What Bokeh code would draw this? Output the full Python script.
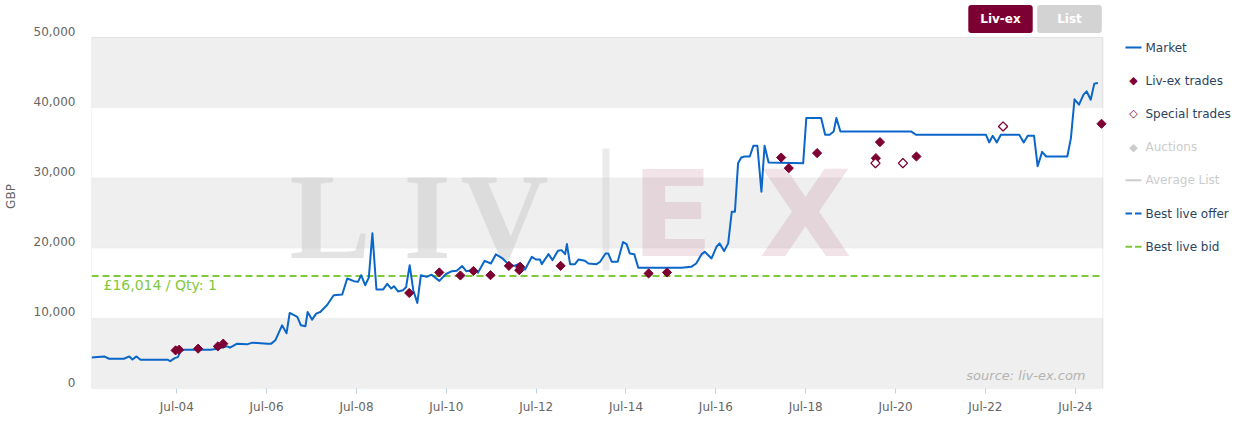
import math
from datetime import datetime

from bokeh.plotting import figure
from bokeh.models import (Range1d, FixedTicker, DatetimeTickFormatter, NumeralTickFormatter,
                          BoxAnnotation, Label, LinearAxis, ColumnDataSource)
from bokeh.embed import file_html
from bokeh.resources import INLINE

# ---------------- data (dates as decimal years) ----------------
market_t = [2002.60, 2002.88, 2002.99, 2003.32, 2003.44, 2003.51, 2003.60, 2003.69, 2004.29, 2004.35,
            2004.45, 2004.52, 2004.58, 2004.67, 2005.25, 2005.36, 2005.62, 2005.68, 2005.84, 2006.06,
            2006.18, 2006.51, 2006.60, 2006.69, 2006.84, 2006.94, 2007.01, 2007.18, 2007.26, 2007.36,
            2007.41, 2007.51, 2007.60, 2007.69, 2007.84, 2007.99, 2008.18, 2008.29, 2008.44, 2008.53,
            2008.60, 2008.69, 2008.77, 2008.85, 2008.94, 2009.09, 2009.18, 2009.27, 2009.33, 2009.42,
            2009.53, 2009.60, 2009.68, 2009.76, 2009.85, 2009.93, 2010.06, 2010.17, 2010.34, 2010.49,
            2010.62, 2010.73, 2010.85, 2010.94, 2011.10, 2011.20, 2011.35, 2011.49, 2011.60, 2011.75,
            2011.88, 2012.01, 2012.14, 2012.25, 2012.40, 2012.49, 2012.58, 2012.62, 2012.77, 2012.86,
            2012.98, 2013.06, 2013.14, 2013.18, 2013.25, 2013.36, 2013.44, 2013.58, 2013.66, 2013.84,
            2013.92, 2014.04, 2014.10, 2014.18, 2014.31, 2014.43, 2014.51, 2014.58, 2014.68, 2014.77,
            2015.73, 2015.95, 2016.06, 2016.18, 2016.25, 2016.40, 2016.51, 2016.58, 2016.68, 2016.77,
            2016.85, 2016.92, 2016.99, 2017.06, 2017.14, 2017.25, 2017.33, 2017.42, 2017.51, 2017.58,
            2017.67, 2018.44, 2018.51, 2018.84, 2018.93, 2019.03, 2019.12, 2019.18, 2019.27, 2020.84,
            2020.95, 2022.51, 2022.58, 2022.66, 2022.75, 2022.84, 2023.25, 2023.35, 2023.44, 2023.58,
            2023.66, 2023.76, 2023.85, 2024.32, 2024.40, 2024.48, 2024.58, 2024.68, 2024.75, 2024.84,
            2024.92, 2025.00]
market_v = [4400, 4570, 4240, 4240, 4570, 4140, 4570, 4100, 4100, 3900,
            4330, 4470, 5330, 5530, 5530, 5610, 6000, 5810, 6390, 6290,
            6530, 6390, 6390, 6860, 9000, 7860, 10760, 10190, 9000, 8860,
            10900, 9810, 10670, 10900, 11860, 13290, 13390, 15670, 15290, 15190,
            16140, 14710, 15790, 22100, 14110, 14110, 14900, 14240, 14570, 13830,
            14000, 14430, 17570, 14000, 12190, 16140, 15900, 16210, 15330, 16310,
            16710, 16760, 17440, 16710, 16900, 16500, 18190, 17810, 19100, 18530,
            17710, 17470, 17810, 16950, 18760, 18380, 18380, 17710, 19140, 18290,
            19610, 19710, 19140, 20570, 17710, 17710, 18380, 18190, 17810, 17710,
            18050, 19240, 19240, 18050, 18050, 20860, 20570, 19240, 19140, 17190,
            17190, 17330, 17810, 19140, 19470, 18530, 20190, 20670, 19570, 20670,
            25190, 25190, 32100, 32900, 33050, 33050, 34570, 34570, 28040, 34570,
            32200, 32100, 38530, 38530, 36140, 36140, 36620, 38530, 36620, 36620,
            36140, 36140, 35050, 36000, 35050, 36140, 36140, 35050, 36000, 36000,
            31670, 33710, 33050, 33050, 35670, 41190, 40430, 41860, 42330, 41140,
            43430, 43530]

livex_t = [2004.47, 2004.55, 2004.97, 2005.41, 2005.53, 2009.67, 2010.34, 2010.81, 2011.10, 2011.48,
           2011.89, 2012.12, 2012.14, 2013.04, 2015.00, 2015.41, 2017.95, 2018.12, 2018.75, 2020.06,
           2020.15, 2020.96, 2025.08]
livex_v = [5430, 5530, 5670, 6000, 6390, 13610, 16530, 16100, 16740, 16140,
           17470, 16860, 17330, 17470, 16390, 16530, 32900, 31390, 33530, 32810,
           35100, 33050, 37710]

special_t = [2020.05, 2020.66, 2022.89]
special_v = [32100, 32100, 37330]

best_bid = 16014
best_bid_qty = 1

x_start, x_end = 2002.598, 2025.109
tick_years = [2004, 2006, 2008, 2010, 2012, 2014, 2016, 2018, 2020, 2022, 2024]
y_ticks = [0, 10000, 20000, 30000, 40000, 50000]
series_names = ["Market", "Liv-ex trades", "Special trades", "Auctions", "Average List",
                "Best live offer", "Best live bid"]

# ---------------- helpers ----------------
EPOCH = datetime(1970, 1, 1)


def dec_to_dt(t):
    y = int(t)
    a, b = datetime(y, 1, 1), datetime(y + 1, 1, 1)
    return a + (b - a) * (t - y)


def ms(dt):
    return (dt - EPOCH).total_seconds() * 1000.0


# page layout (pixels): plot area 89..1102 x 37..388; frame extended to hold legend/buttons
W, H = 1241, 422
PL, PR, PT, PB = 89, 1102, 37, 388
FRAME_TOP = 4
years_per_px = (x_end - x_start) / (PR - PL)
x_range_end = x_end + (W - PR) * years_per_px
units_per_px = y_ticks[-1] / (PB - PT)
y_top = y_ticks[-1] + (PT - FRAME_TOP) * units_per_px
label_lift = 6.5 * units_per_px   # tick labels sit a few px above their grid line

MAROON = "#7d0032"
BLUE = "#0b66c9"
GREEN = "#7fc93a"
GREY_INACTIVE = "#cccccc"
LEGEND_TXT = "#2c4360"
FONT = "DejaVu Sans"

p = figure(width=W, height=H, x_axis_type="datetime", y_axis_location=None,
           output_backend="svg", toolbar_location=None, tools="",
           x_range=Range1d(dec_to_dt(x_start), dec_to_dt(x_range_end)),
           y_range=Range1d(0, y_top),
           min_border_left=PL, min_border_right=0, min_border_top=FRAME_TOP,
           min_border_bottom=H - PB)
p.background_fill_color = "white"
p.border_fill_color = "white"
p.outline_line_color = None
p.grid.grid_line_color = None

# alternating bands (their edges act as grid lines)
for lo, hi in [(y_ticks[0], y_ticks[1]), (y_ticks[2], y_ticks[3]), (y_ticks[4], y_ticks[5])]:
    p.add_layout(BoxAnnotation(bottom=lo, top=hi, right=dec_to_dt(x_end), fill_color="#efefef",
                               fill_alpha=1.0, line_color="#e2e2e2", line_width=1, level="image"))
# plot border
p.add_layout(BoxAnnotation(bottom=y_ticks[0], top=y_ticks[-1], right=dec_to_dt(x_end),
                           fill_alpha=0, line_color="#c4c4c4", line_width=1, level="underlay"))

# watermark
wm_grey = dict(x_units="screen", y_units="screen", text_font="Liberation Serif",
               text_font_style="bold", text_font_size="122px", text_color="#cdcdcd",
               text_alpha=0.56, text_baseline="middle", level="underlay")
for letter, xx in [("L", 198), ("I", 312), ("V", 369)]:
    p.add_layout(Label(x=xx, y=172, text=letter, **wm_grey))
p.add_layout(BoxAnnotation(left=511, right=518, top=240, bottom=118, left_units="screen",
                           right_units="screen", top_units="screen", bottom_units="screen",
                           fill_color="#cdcdcd", fill_alpha=0.4, line_color=None, level="underlay"))
wm_pink = dict(x_units="screen", y_units="screen", text_font=FONT, text_font_style="bold",
               text_font_size="120px", text_color="#a0405f", text_alpha=0.15,
               text_baseline="middle", level="underlay")
p.add_layout(Label(x=540, y=174, text="E", **wm_pink))
p.add_layout(Label(x=714, y=174, text="X", text_align="center", **wm_pink))

# ---------------- series ----------------
src_m = ColumnDataSource(dict(x=[dec_to_dt(t) for t in market_t], y=market_v))
src_l = ColumnDataSource(dict(x=[dec_to_dt(t) for t in livex_t], y=livex_v))
src_s = ColumnDataSource(dict(x=[dec_to_dt(t) for t in special_t], y=special_v))

p.segment(x0=[dec_to_dt(x_start)], x1=[dec_to_dt(x_end)], y0=[best_bid], y1=[best_bid],
          line_color=GREEN, line_width=2, line_dash="7 4")
p.line(x="x", y="y", source=src_m, line_color=BLUE, line_width=2, line_join="round")
p.scatter(x="x", y="y", source=src_l, marker="square", angle=math.pi / 4, size=6.5,
          fill_color=MAROON, line_color=MAROON, line_width=1)
p.scatter(x="x", y="y", source=src_s, marker="square", angle=math.pi / 4, size=6.5,
          fill_color="white", line_color=MAROON, line_width=1.3)

# ---------------- axes ----------------
p.xaxis.ticker = FixedTicker(ticks=[ms(datetime(y, 7, 1)) for y in tick_years])
fmt = "%b-%y"
p.xaxis.formatter = DatetimeTickFormatter(milliseconds=fmt, seconds=fmt, minsec=fmt, minutes=fmt,
                                          hourmin=fmt, hours=fmt, days=fmt, months=fmt, years=fmt)
p.xaxis.axis_line_color = None
p.xaxis.major_tick_line_color = "#c0d0e0"
p.xaxis.major_tick_out = 5
p.xaxis.major_tick_in = 0
p.xaxis.minor_tick_line_color = None
p.xaxis.major_label_standoff = 6
p.xaxis.major_label_text_font = FONT
p.xaxis.major_label_text_font_size = "12px"
p.xaxis.major_label_text_color = "#666666"

# value axis: labels drawn slightly above their grid lines (shifted label range)
p.extra_y_ranges = {"labels": Range1d(-label_lift, y_top - label_lift)}
yax = LinearAxis(y_range_name="labels", ticker=FixedTicker(ticks=y_ticks),
                 formatter=NumeralTickFormatter(format="0,0"),
                 axis_line_color=None, major_tick_line_color=None, minor_tick_line_color=None,
                 major_tick_out=0, major_tick_in=0, major_label_standoff=16,
                 major_label_text_font=FONT, major_label_text_font_size="12px",
                 major_label_text_color="#666666",
                 axis_label="GBP", axis_label_standoff=13, axis_label_text_font=FONT,
                 axis_label_text_font_size="12px", axis_label_text_font_style="normal",
                 axis_label_text_color="#666666")
p.add_layout(yax, "left")

# best bid label
p.add_layout(Label(x=12, y=best_bid, x_units="screen", y_units="data", y_offset=-1,
                   text=f"£{best_bid:,} / Qty: {best_bid_qty}", text_baseline="top",
                   text_color=GREEN, text_font=FONT, text_font_size="14px"))

# source credit
p.add_layout(Label(x=994, y=13, x_units="screen", y_units="screen", text="source: liv-ex.com",
                   text_align="right", text_baseline="middle", text_font=FONT,
                   text_font_style="italic", text_font_size="13px", text_color="#b3b3b3"))

# buttons
p.add_layout(Label(x=909, y=369.5, x_units="screen", y_units="screen", text="Liv-ex",
                   text_align="center", text_baseline="middle", text_color="white",
                   text_font=FONT, text_font_style="bold", text_font_size="12px",
                   background_fill_color=MAROON, border_radius=3,
                   padding=dict(left=12, right=12, top=7, bottom=7)))
p.add_layout(Label(x=978, y=369.5, x_units="screen", y_units="screen", text="List",
                   text_align="center", text_baseline="middle", text_color="white",
                   text_font=FONT, text_font_style="bold", text_font_size="12px",
                   background_fill_color="#d3d3d3", border_radius=3,
                   padding=dict(left=20, right=20, top=7, bottom=7)))

# ---------------- legend (drawn in the panel right of the plot area) ----------------
legend_spec = [  # (kind, symbol colour, text colour)
    ("line", BLUE, LEGEND_TXT),
    ("diamond", MAROON, LEGEND_TXT),
    ("hollow", MAROON, LEGEND_TXT),
    ("diamond", GREY_INACTIVE, GREY_INACTIVE),
    ("line", GREY_INACTIVE, GREY_INACTIVE),
    ("dash", BLUE, LEGEND_TXT),
    ("dash", GREEN, LEGEND_TXT),
]
LG_X0, LG_X1 = 1123 - PL, 1139 - PL
row_first, row_pitch = 47.0, 33.2


def sbox(l, r, b, t, color):
    return BoxAnnotation(left=l, right=r, bottom=b, top=t, left_units="screen",
                         right_units="screen", bottom_units="screen", top_units="screen",
                         fill_color=color, fill_alpha=1.0, line_color=None)


for i, (name, (kind, scol, tcol)) in enumerate(zip(series_names, legend_spec)):
    yc = PB - (row_first + i * row_pitch)
    if kind == "line":
        p.add_layout(sbox(LG_X0, LG_X1, yc - 1, yc + 1, scol))
    elif kind == "dash":
        p.add_layout(sbox(LG_X0, LG_X0 + 6.5, yc - 1, yc + 1, scol))
        p.add_layout(sbox(LG_X1 - 6.5, LG_X1, yc - 1, yc + 1, scol))
    else:
        glyph = "\u25C6" if kind == "diamond" else "\u25C7"
        p.add_layout(Label(x=(LG_X0 + LG_X1) / 2, y=yc, x_units="screen", y_units="screen",
                           text=glyph, text_align="center", text_baseline="middle",
                           text_color=scol, text_font=FONT, text_font_size="11px"))
    p.add_layout(Label(x=LG_X1 + 4, y=yc, x_units="screen", y_units="screen", text=name,
                       text_align="left", text_baseline="middle", text_color=tcol,
                       text_font=FONT, text_font_size="12px"))

open("out.html", "w").write(file_html(p, INLINE))
